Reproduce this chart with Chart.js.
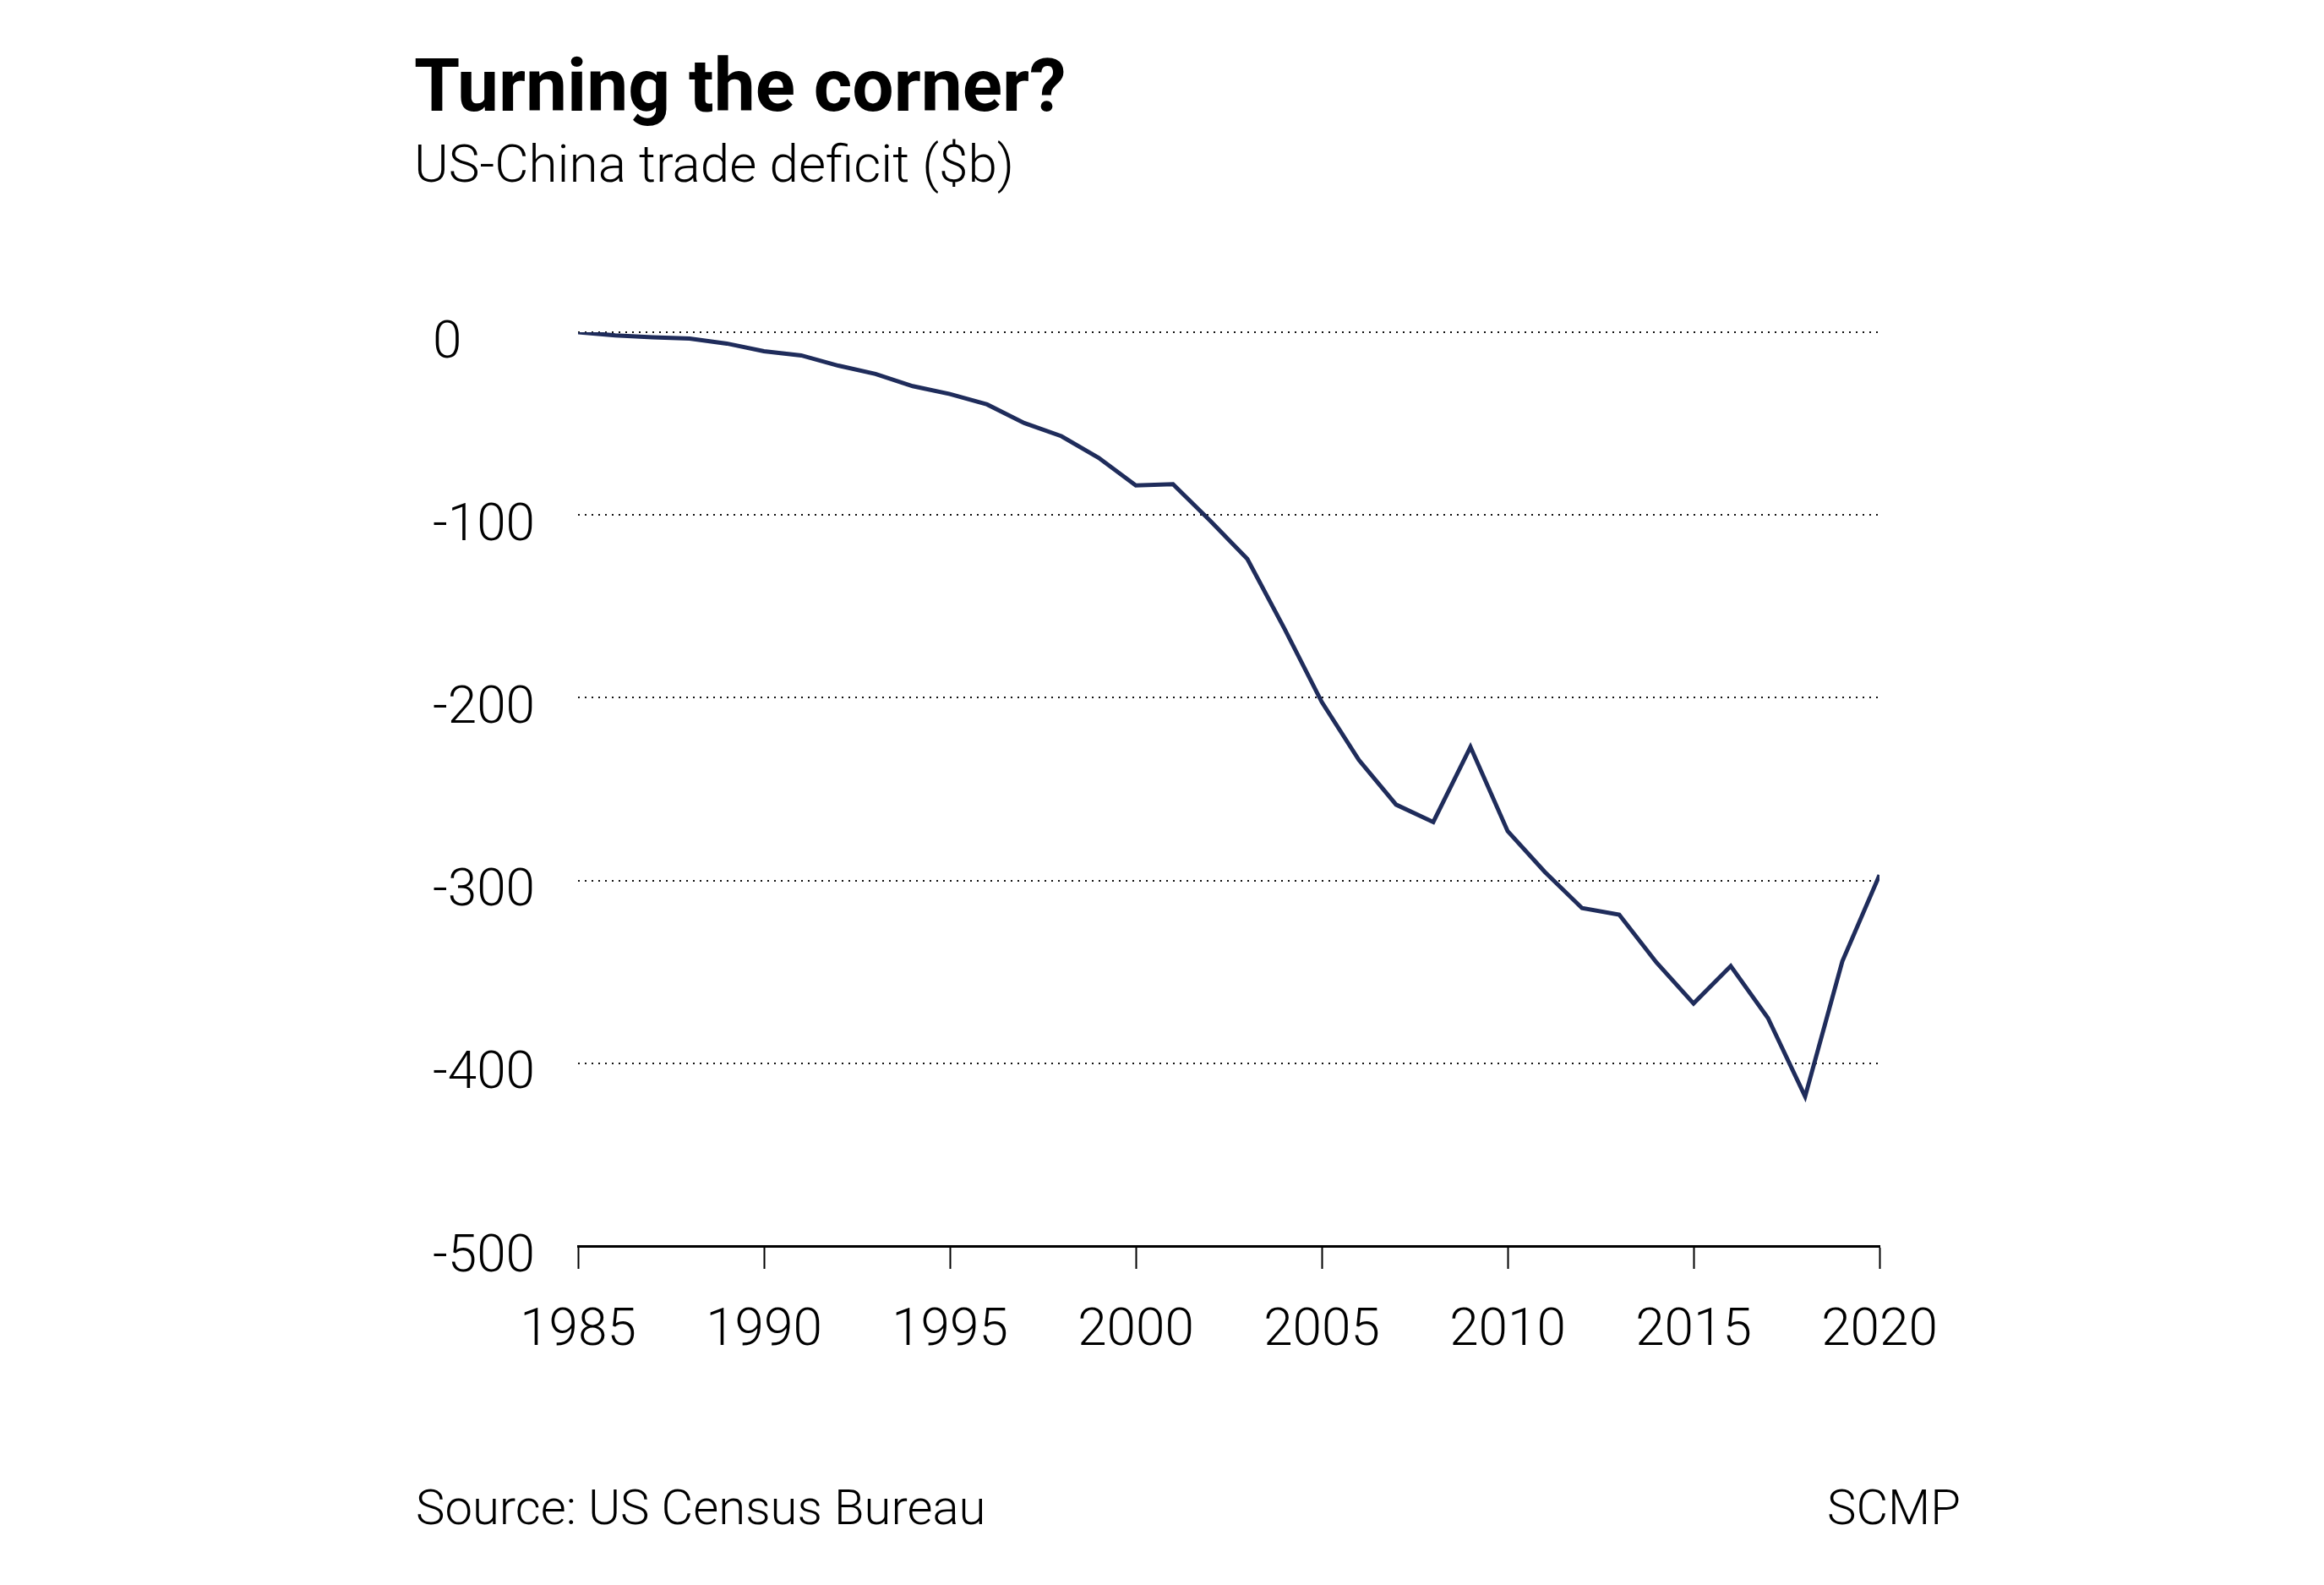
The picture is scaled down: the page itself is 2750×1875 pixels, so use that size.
<!DOCTYPE html>
<html>
<head>
<meta charset="utf-8">
<script src="https://cdn.jsdelivr.net/npm/chart.js@4/dist/chart.umd.min.js"></script>
<style>
  html, body { margin: 0; padding: 0; background: #fff; }
  #wrap { position: relative; width: 2750px; height: 1875px; overflow: hidden; background: #fff; }
  canvas { position: absolute; left: 0; top: 0; }
  .txt { position: absolute; font-family: Roboto, "Noto Sans", sans-serif; color: #000; line-height: 1; white-space: nowrap; }
  #title { left: 490px; top: 58px; font-size: 87.5px; font-weight: 700; }
  #subtitle { left: 490px; top: 163px; font-size: 62px; font-weight: 300; }
  #source { left: 492px; top: 1754px; font-size: 58px; font-weight: 300; }
  #brand { right: 430px; top: 1754px; font-size: 58px; font-weight: 300; }
</style>
</head>
<body>
<div id="wrap">
  <canvas id="c" width="2750" height="1875"></canvas>
  <div class="txt" id="title">Turning the corner?</div>
  <div class="txt" id="subtitle">US-China trade deficit ($b)</div>
  <div class="txt" id="source">Source: US Census Bureau</div>
  <div class="txt" id="brand">SCMP</div>
</div>
<script>
const years = [1985, 1986, 1987, 1988, 1989, 1990, 1991, 1992, 1993, 1994,
               1995, 1996, 1997, 1998, 1999, 2000, 2001, 2002, 2003, 2004,
               2005, 2006, 2007, 2008, 2009, 2010, 2011, 2012, 2013, 2014,
               2015, 2016, 2017, 2018, 2019, 2020];
const deficit = [-0.0, -1.7, -2.8, -3.5, -6.2, -10.4, -12.7, -18.3, -22.8, -29.5,
                 -33.8, -39.5, -49.7, -56.9, -68.7, -83.8, -83.1, -103.1, -124.1, -162.3,
                 -202.3, -234.1, -258.5, -268.0, -226.9, -273.0, -295.3, -315.1, -318.7, -344.8,
                 -367.3, -346.8, -375.2, -418.2, -344.3, -297.0];
const xTickValues = [1985, 1990, 1995, 2000, 2005, 2010, 2015, 2020];
const xTickLabels = ['1985', '1990', '1995', '2000', '2005', '2010', '2015', '2020'];
const yTickValues = [0, -100, -200, -300, -400, -500];
const yTickLabels = ['0', '-100', '-200', '-300', '-400', '-500'];

const points = years.map((y, i) => ({ x: y, y: deficit[i] }));
const labelFont = { family: 'Roboto', size: 62, weight: '300' };

new Chart(document.getElementById('c'), {
  type: 'line',
  data: {
    datasets: [{
      data: points,
      borderColor: '#1f2c5b',
      borderWidth: 5,
      pointRadius: 0,
      tension: 0,
      fill: false
    }]
  },
  options: {
    responsive: false,
    animation: false,
    devicePixelRatio: 1,
    layout: { padding: { left: 512, right: 526, top: 393, bottom: 0 } },
    plugins: { legend: { display: false }, tooltip: { enabled: false }, title: { display: false } },
    scales: {
      x: {
        type: 'linear',
        min: 1985,
        max: 2020,
        afterBuildTicks: s => { s.ticks = xTickValues.map(v => ({ value: v })); },
        afterFit: s => { s.height = 1875 - 1474; },
        ticks: {
          color: '#000',
          font: labelFont,
          padding: 37,
          maxRotation: 0,
          autoSkip: false,
          callback: v => xTickLabels[xTickValues.indexOf(v)]
        },
        grid: {
          drawOnChartArea: false,
          drawTicks: true,
          tickLength: 27,
          tickWidth: 2,
          tickColor: '#000'
        },
        border: { display: true, color: '#000', width: 3 }
      },
      y: {
        type: 'linear',
        min: -500,
        max: 0,
        afterBuildTicks: s => { s.ticks = yTickValues.map(v => ({ value: v })); },
        afterFit: s => { s.width = 684 - 512; },
        ticks: {
          color: '#000',
          font: labelFont,
          crossAlign: 'far',
          labelOffset: 14,
          autoSkip: false,
          callback: v => yTickLabels[yTickValues.indexOf(v)]
        },
        grid: {
          drawTicks: false,
          lineWidth: 2,
          color: ctx => (ctx.tick && ctx.tick.value === -500) ? 'rgba(0,0,0,0)' : '#111'
        },
        border: { display: false, dash: [2, 6] }
      }
    }
  }
});
</script>
</body>
</html>
